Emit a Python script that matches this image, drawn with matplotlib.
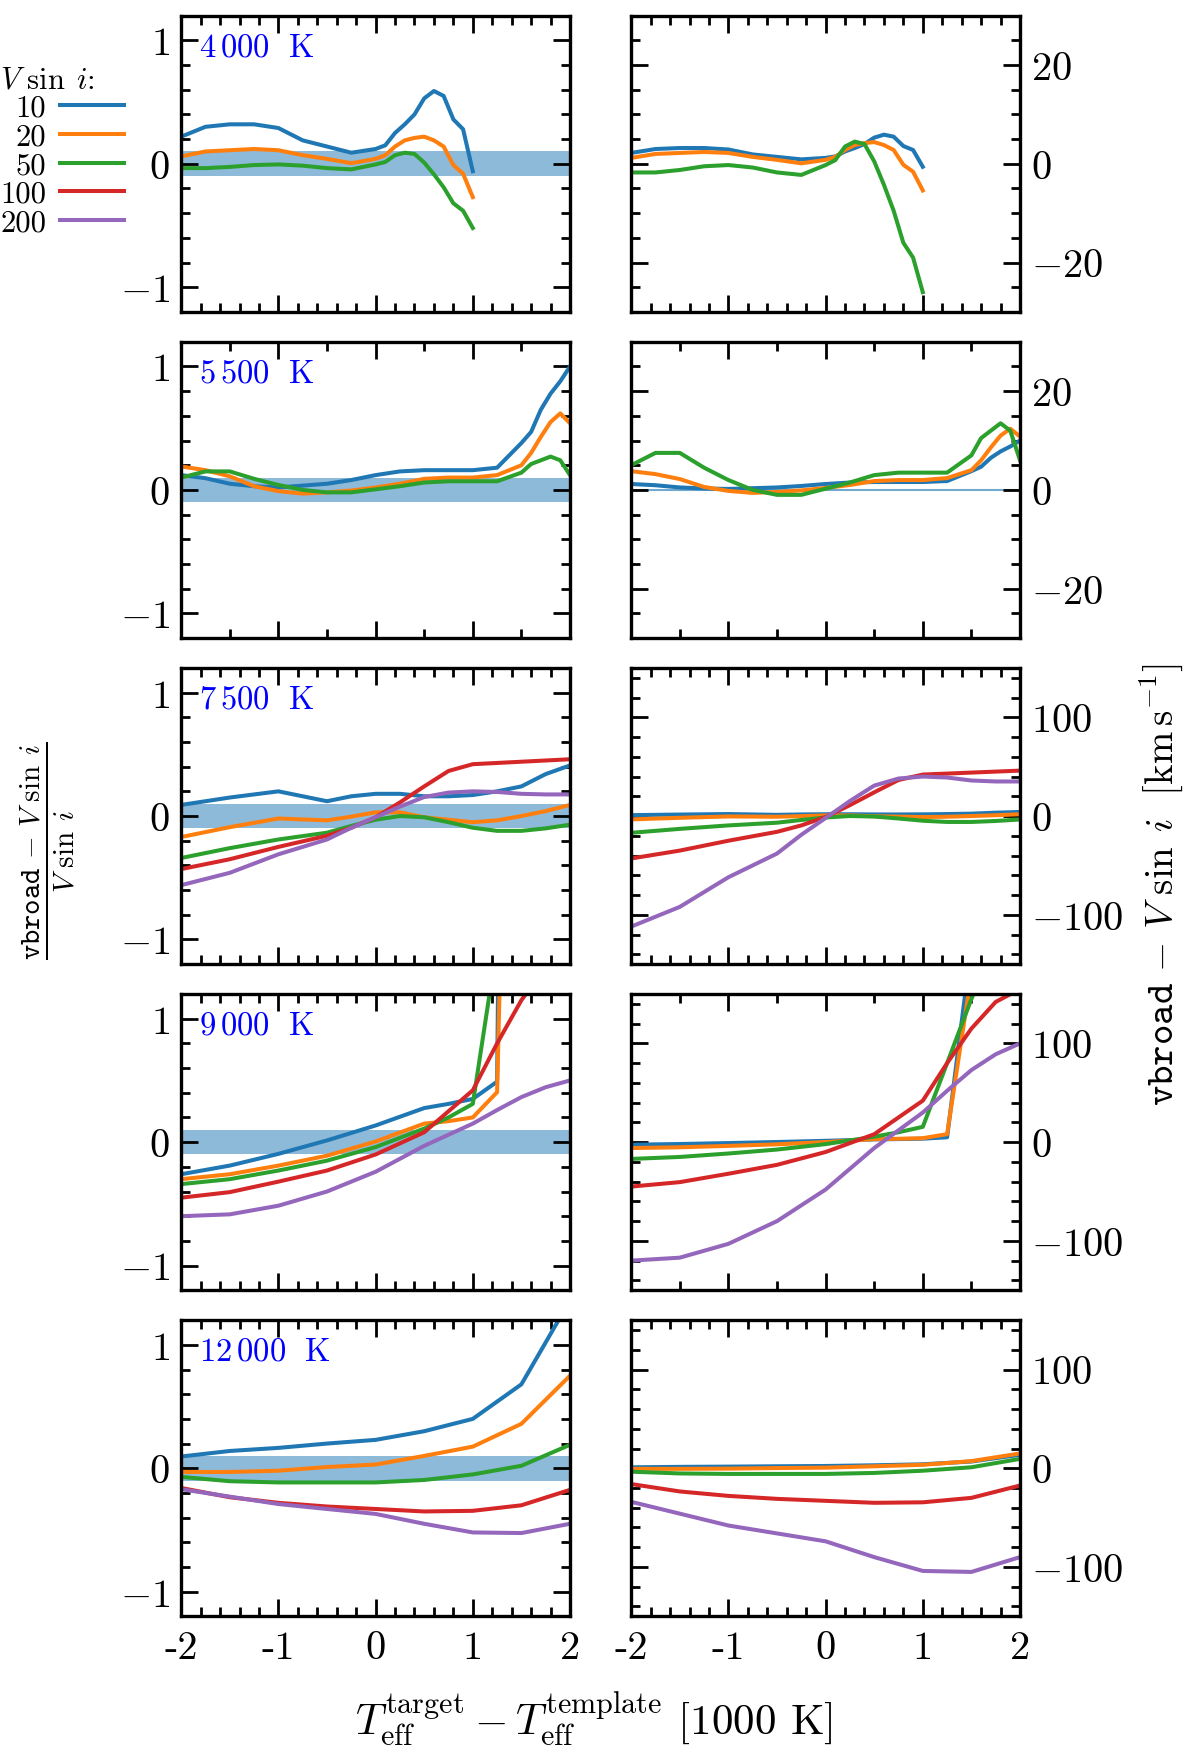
import numpy as np
import matplotlib
matplotlib.use('Agg')
import matplotlib.pyplot as plt
from matplotlib.lines import Line2D
from matplotlib.ticker import MultipleLocator, FixedLocator, FixedFormatter

plt.rcParams['mathtext.fontset'] = 'cm'
plt.rcParams['font.family'] = 'serif'
plt.rcParams['font.serif'] = ['cmr10', 'DejaVu Serif']
plt.rcParams['axes.unicode_minus'] = False

# ---------------- data ----------------
vsini = [10, 20, 50, 100, 200]
vsini_labels = ['10', '20', '50', '100', '200']
colors = ['C0', 'C1', 'C2', 'C3', 'C4']
teff_labels = [r'$4\,000\ \ \mathrm{K}$', r'$5\,500\ \ \mathrm{K}$', r'$7\,500\ \ \mathrm{K}$',
               r'$9\,000\ \ \mathrm{K}$', r'$12\,000\ \ \mathrm{K}$']

# relative difference (vbroad - Vsini)/Vsini for each target Teff
# row 1: 4000 K
x_4000 = [-2, -1.75, -1.5, -1.25, -1, -0.75, -0.5, -0.25, 0, 0.1, 0.2, 0.3, 0.4, 0.5, 0.6, 0.7, 0.8, 0.9, 1.0]
rel_4000_v10 = [0.22, 0.30, 0.32, 0.32, 0.29, 0.19, 0.14, 0.09, 0.12, 0.15, 0.25, 0.32, 0.40, 0.53, 0.59, 0.55, 0.36, 0.28, -0.06]
rel_4000_v20 = [0.06, 0.10, 0.11, 0.12, 0.11, 0.07, 0.04, 0.005, 0.04, 0.07, 0.14, 0.19, 0.21, 0.22, 0.19, 0.14, -0.01, -0.08, -0.27]
rel_4000_v50 = [-0.035, -0.035, -0.025, -0.01, -0.005, -0.015, -0.035, -0.045, -0.005, 0.015, 0.07, 0.09, 0.08, 0.01, -0.085, -0.19, -0.32, -0.38, -0.52]

# row 2: 5500 K
x_5500 = [-2, -1.75, -1.5, -1.25, -1, -0.75, -0.5, -0.25, 0, 0.25, 0.5, 0.75, 1, 1.25, 1.5, 1.6, 1.7, 1.8, 1.9, 2.0]
rel_5500_v10 = [0.12, 0.095, 0.05, 0.03, 0.02, 0.035, 0.05, 0.08, 0.12, 0.15, 0.16, 0.16, 0.16, 0.18, 0.38, 0.47, 0.65, 0.78, 0.88, 1.0]
rel_5500_v20 = [0.19, 0.16, 0.11, 0.03, -0.01, -0.03, -0.02, -0.005, 0.02, 0.05, 0.09, 0.10, 0.10, 0.12, 0.20, 0.30, 0.43, 0.55, 0.62, 0.54]
rel_5500_v50 = [0.10, 0.15, 0.15, 0.09, 0.04, 0.0, -0.02, -0.02, 0.005, 0.03, 0.06, 0.07, 0.07, 0.07, 0.14, 0.21, 0.24, 0.27, 0.24, 0.12]

# row 3: 7500 K
x_7500 = [-2, -1.5, -1, -0.5, -0.25, 0, 0.25, 0.5, 0.75, 1, 1.25, 1.5, 1.75, 2]
rel_7500_v10 = [0.09, 0.15, 0.20, 0.12, 0.16, 0.18, 0.18, 0.16, 0.16, 0.17, 0.20, 0.24, 0.34, 0.41]
rel_7500_v20 = [-0.17, -0.09, -0.02, -0.035, -0.005, 0.03, 0.03, -0.01, -0.03, -0.05, -0.035, 0.0, 0.04, 0.09]
rel_7500_v50 = [-0.34, -0.26, -0.19, -0.135, -0.08, -0.03, 0.0, -0.01, -0.05, -0.095, -0.12, -0.12, -0.10, -0.07]
rel_7500_v100 = [-0.43, -0.35, -0.25, -0.16, -0.095, -0.01, 0.11, 0.24, 0.365, 0.42, 0.43, 0.44, 0.45, 0.46]
rel_7500_v200 = [-0.56, -0.46, -0.31, -0.19, -0.095, -0.01, 0.076, 0.154, 0.19, 0.20, 0.195, 0.18, 0.175, 0.175]

# row 4: 9000 K
x_9000 = [-2, -1.5, -1, -0.5, 0, 0.5, 0.75, 1, 1.25, 1.5, 1.75, 2]
rel_9000_v10 = [-0.26, -0.19, -0.095, 0.014, 0.135, 0.276, 0.31, 0.35, 0.49, 20.0, 25.0, 30.0]
rel_9000_v20 = [-0.30, -0.26, -0.19, -0.11, 0.005, 0.15, 0.17, 0.20, 0.405, 8.5, 10.0, 12.0]
rel_9000_v50 = [-0.34, -0.30, -0.23, -0.15, -0.04, 0.11, 0.20, 0.31, 1.6, 2.9, 4.0, 5.0]
rel_9000_v100 = [-0.45, -0.405, -0.32, -0.23, -0.10, 0.08, 0.25, 0.42, 0.80, 1.15, 1.42, 1.55]
rel_9000_v200 = [-0.60, -0.585, -0.515, -0.40, -0.24, -0.03, 0.06, 0.15, 0.26, 0.365, 0.445, 0.50]

# row 5: 12000 K
x_12000 = [-2, -1.5, -1, -0.5, 0, 0.5, 1, 1.5, 2]
rel_12000_v10 = [0.095, 0.14, 0.165, 0.20, 0.23, 0.30, 0.40, 0.68, 1.36]
rel_12000_v20 = [-0.03, -0.03, -0.02, 0.01, 0.03, 0.10, 0.175, 0.36, 0.75]
rel_12000_v50 = [-0.07, -0.105, -0.115, -0.115, -0.115, -0.095, -0.05, 0.02, 0.19]
rel_12000_v100 = [-0.16, -0.235, -0.28, -0.31, -0.33, -0.35, -0.345, -0.30, -0.175]
rel_12000_v200 = [-0.17, -0.23, -0.29, -0.33, -0.37, -0.45, -0.52, -0.525, -0.45]

rows = [
    (x_4000, [rel_4000_v10, rel_4000_v20, rel_4000_v50]),
    (x_5500, [rel_5500_v10, rel_5500_v20, rel_5500_v50]),
    (x_7500, [rel_7500_v10, rel_7500_v20, rel_7500_v50, rel_7500_v100, rel_7500_v200]),
    (x_9000, [rel_9000_v10, rel_9000_v20, rel_9000_v50, rel_9000_v100, rel_9000_v200]),
    (x_12000, [rel_12000_v10, rel_12000_v20, rel_12000_v50, rel_12000_v100, rel_12000_v200]),
]

left_yticks = [-1, 0, 1]
left_yticklabels = [r'$-1$', r'$0$', r'$1$']
right_yticks_small = [-20, 0, 20]
right_yticklabels_small = [r'$-20$', r'$0$', r'$20$']
right_yticks_big = [-100, 0, 100]
right_yticklabels_big = [r'$-100$', r'$0$', r'$100$']
xticks = [-2, -1, 0, 1, 2]
xticklabels = ['-2', '-1', '0', '1', '2']

# ---------------- figure ----------------
fig = plt.figure(figsize=(12, 17.58), dpi=100)

left_x, right_x, width = 0.151, 0.526, 0.324
height = 0.1685
bottoms = [0.822 - k * 0.1855 for k in range(5)]
# minor x tick spacing per panel (left, right)
xminor = [(0.2, 0.2), (0.5, 0.5), (0.2, 0.2), (0.2, 0.5), (0.2, 0.2)]

LW = 2.9
tick_font = 29


def style_axes(ax, xm):
    ax.set_xlim(-2, 2)
    ax.xaxis.set_major_locator(FixedLocator(xticks))
    ax.xaxis.set_minor_locator(MultipleLocator(xm))
    ax.tick_params(which='both', direction='in', top=True, bottom=True, left=True, right=True)
    ax.tick_params(which='major', length=12, width=2.0, labelsize=tick_font)
    ax.tick_params(which='minor', length=6.5, width=2.0)
    for s in ax.spines.values():
        s.set_linewidth(2.4)


for k, (xs, rels) in enumerate(rows):
    b = bottoms[k]
    axL = fig.add_axes([left_x, b, width, height])
    axR = fig.add_axes([right_x, b, width, height])
    style_axes(axL, xminor[k][0])
    style_axes(axR, xminor[k][1])

    axL.axhspan(-0.1, 0.1, color='C0', alpha=0.5, lw=0, zorder=0)
    if k == 1:
        axR.axhspan(-0.1, 0.1, color='C0', alpha=0.5, lw=0.8, zorder=0)

    for j, rel in enumerate(rels):
        rel = np.asarray(rel)
        axL.plot(xs, rel, color=colors[j], lw=LW, clip_on=True)
        axR.plot(xs, rel * vsini[j], color=colors[j], lw=LW, clip_on=True)

    axL.set_ylim(-1.2, 1.2)
    axL.yaxis.set_major_locator(FixedLocator(left_yticks))
    axL.yaxis.set_major_formatter(FixedFormatter(left_yticklabels))
    axL.yaxis.set_minor_locator(MultipleLocator(0.2))
    axL.tick_params(labelleft=True, labelright=False)

    if k < 2:
        axR.set_ylim(-30, 30)
        axR.yaxis.set_major_locator(FixedLocator(right_yticks_small))
        axR.yaxis.set_major_formatter(FixedFormatter(right_yticklabels_small))
        axR.yaxis.set_minor_locator(MultipleLocator(5))
    else:
        axR.set_ylim(-150, 150)
        axR.yaxis.set_major_locator(FixedLocator(right_yticks_big))
        axR.yaxis.set_major_formatter(FixedFormatter(right_yticklabels_big))
        axR.yaxis.set_minor_locator(MultipleLocator(20))
    axR.tick_params(labelleft=False, labelright=True)

    for ax in (axL, axR):
        if k == 4:
            ax.xaxis.set_major_formatter(FixedFormatter(xticklabels))
            ax.tick_params(labelbottom=True, pad=10)
        else:
            ax.tick_params(labelbottom=False)
    axL.tick_params(axis='y', pad=8)
    axR.tick_params(axis='y', pad=8)

    axL.text(0.047, 0.895, teff_labels[k], transform=axL.transAxes, color='blue',
             fontsize=23.5, ha='left', va='center')

    if k == 0:
        handles = [Line2D([], [], color=c, lw=LW) for c in colors]
        leg = axL.legend(handles, vsini_labels, loc='upper left',
                         bbox_to_anchor=(0.0, 0.962), bbox_transform=fig.transFigure,
                         frameon=False, markerfirst=False, title=r'$V\ \sin\;i$:',
                         alignment='left', fontsize=22, title_fontsize=22,
                         handlelength=2.1, handletextpad=0.45, labelspacing=0.04,
                         borderpad=0, borderaxespad=0)

fig.text(0.040, 0.516, r'$\frac{\mathtt{vbroad}\,-\,V\ \sin\;i}{V\ \sin\;i}$', rotation=90,
         fontsize=30, ha='center', va='center')
fig.text(0.968, 0.497, r'$\mathtt{vbroad}\,-\,V\ \sin\;i\ \ [\mathrm{km\,s^{-1}}]$', rotation=90,
         fontsize=28, ha='center', va='center')
fig.text(0.495, 0.022, r'$T_\mathrm{eff}^\mathrm{target} - T_\mathrm{eff}^\mathrm{template}$ [1000 K]',
         fontsize=31, ha='center', va='center')

fig.savefig('out.png', dpi=100)
